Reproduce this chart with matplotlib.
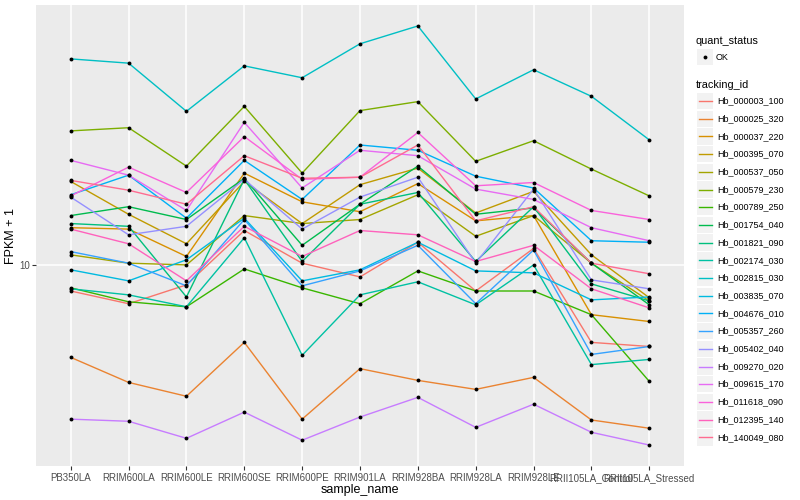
# FPKM + 1 per sample for each tracking id (cuffdiff-style line plot)
import matplotlib
matplotlib.use('Agg')
import matplotlib.pyplot as plt
from matplotlib.patches import Rectangle
from matplotlib.lines import Line2D
from matplotlib.ticker import NullLocator

plt.rcParams['font.family'] = ['Liberation Sans', 'DejaVu Sans']

samples = ['PB350LA', 'RRIM600LA', 'RRIM600LE', 'RRIM600SE', 'RRIM600PE', 'RRIM901LA',
           'RRIM928BA', 'RRIM928LA', 'RRIM928LE', 'RRII105LA_Control', 'RRII105LA_Stressed']

tracking_ids = ['Hb_000003_100', 'Hb_000025_320', 'Hb_000037_220', 'Hb_000395_070',
                'Hb_000537_050', 'Hb_000579_230', 'Hb_000789_250', 'Hb_001754_040',
                'Hb_001821_090', 'Hb_002174_030', 'Hb_002815_030', 'Hb_003835_070',
                'Hb_004676_010', 'Hb_005357_260', 'Hb_005402_040', 'Hb_009270_020',
                'Hb_009615_170', 'Hb_011618_090', 'Hb_012395_140', 'Hb_140049_080']

# FPKM + 1 values, one list per gene (same order as samples)
hb_000003_100 = [8.60, 7.99, 8.91, 12.2, 10.1, 9.33, 11.4, 8.60, 11.0, 6.39, 6.24]
hb_000025_320 = [5.86, 5.07, 4.68, 6.39, 4.10, 5.49, 5.13, 4.87, 5.22, 4.08, 3.89]
hb_000037_220 = [12.4, 12.3, 10.5, 17.0, 14.4, 13.6, 16.0, 12.9, 13.3, 7.50, 7.21]
hb_000395_070 = [16.2, 13.4, 11.3, 16.2, 12.7, 15.9, 17.5, 13.5, 15.3, 10.6, 8.27]
hb_000537_050 = [10.6, 10.1, 10.0, 13.3, 12.7, 13.0, 15.0, 11.8, 13.3, 10.1, 8.12]
hb_000579_230 = [21.7, 22.1, 17.7, 25.0, 17.0, 24.4, 25.7, 18.2, 20.5, 17.4, 14.9]
hb_000789_250 = [8.76, 8.08, 7.85, 9.77, 8.76, 7.99, 9.66, 8.60, 8.60, 7.50, 5.10]
hb_001754_040 = [13.3, 14.0, 13.0, 16.5, 11.2, 14.2, 17.7, 13.4, 13.9, 10.1, 7.94]
hb_001821_090 = [12.7, 12.5, 8.31, 16.4, 10.2, 14.2, 15.2, 10.2, 14.0, 8.96, 8.12]
hb_002174_030 = [8.71, 8.41, 7.85, 11.7, 5.93, 8.41, 9.07, 7.94, 10.0, 5.62, 5.79]
hb_002815_030 = [32.9, 32.1, 24.3, 31.6, 29.5, 35.9, 39.8, 26.1, 30.9, 26.5, 20.6]
hb_003835_070 = [9.72, 9.12, 10.3, 13.1, 9.12, 9.72, 11.4, 9.66, 9.55, 8.17, 8.31]
hb_004676_010 = [15.0, 16.8, 13.1, 18.3, 14.6, 20.0, 19.4, 16.7, 15.6, 11.5, 11.4]
hb_005357_260 = [10.8, 10.1, 8.86, 13.0, 8.86, 9.66, 11.2, 7.99, 10.9, 5.96, 6.24]
hb_005402_040 = [14.8, 11.9, 12.5, 16.4, 12.3, 14.8, 16.6, 10.1, 15.5, 9.17, 8.71]
hb_009270_020 = [4.10, 4.05, 3.67, 4.27, 3.63, 4.15, 4.65, 3.91, 4.47, 3.80, 3.53]
hb_009615_170 = [18.3, 16.8, 13.7, 22.8, 15.6, 19.4, 18.8, 15.5, 14.6, 12.4, 11.5]
hb_011618_090 = [14.9, 17.6, 15.2, 21.0, 16.4, 16.6, 21.5, 15.8, 16.1, 13.7, 13.0]
hb_012395_140 = [12.3, 11.3, 9.12, 12.5, 10.5, 12.2, 11.9, 10.2, 11.2, 8.71, 7.80]
hb_140049_080 = [16.3, 15.4, 14.2, 18.8, 16.5, 16.6, 20.0, 12.9, 14.0, 10.1, 9.50]

genes = [hb_000003_100, hb_000025_320, hb_000037_220, hb_000395_070, hb_000537_050,
         hb_000579_230, hb_000789_250, hb_001754_040, hb_001821_090, hb_002174_030,
         hb_002815_030, hb_003835_070, hb_004676_010, hb_005357_260, hb_005402_040,
         hb_009270_020, hb_009615_170, hb_011618_090, hb_012395_140, hb_140049_080]

# ggplot default hue palette for 20 levels
colors = ['#F8766D', '#EA8331', '#D89000', '#C09B00', '#A3A500', '#7CAE00', '#39B600',
          '#00BB4E', '#00BF7D', '#00C1A3', '#00BFC4', '#00BAE0', '#00B0F6', '#35A2FF',
          '#9590FF', '#C77CFF', '#E76BF3', '#FA62DB', '#FF62BC', '#FF6C91']

W, H = 800, 500
fig = plt.figure(figsize=(8, 5), dpi=100)
ax = fig.add_axes([36 / W, 1 - 466 / H, (684 - 36) / W, (466 - 5) / H])
ax.set_facecolor('#EBEBEB')

x = list(range(len(samples)))
for vals, col in zip(genes, colors):
    ax.plot(x, vals, color=col, lw=1.0, zorder=2)
for vals in genes:
    ax.plot(x, vals, 'o', color='black', ms=2.8, mec='none', zorder=3)

ax.set_yscale('log')
ax.yaxis.set_minor_locator(NullLocator())
ax.set_yticks([10])
ax.set_yticklabels(['10'])
ax.set_xticks(x)
ax.set_xticklabels(samples)
ax.set_xlim(-0.6, len(samples) - 0.4)

ax.grid(True, color='white', lw=1.1, zorder=0)
ax.set_axisbelow(True)
for s in ax.spines.values():
    s.set_visible(False)
ax.tick_params(axis='both', length=3, width=0.8, color='#333333',
               labelcolor='#4D4D4D', labelsize=7)
ax.tick_params(axis='x', pad=2)
ax.tick_params(axis='y', pad=1)

ax.set_xlabel('sample_name', fontsize=9, labelpad=1)
ax.set_ylabel('FPKM + 1', fontsize=9, labelpad=2)


# legend, drawn by hand in the ggplot style
def fx(px):
    return px / W


def fy(py):
    return 1 - py / H


fig.text(fx(696), fy(41), 'quant_status', fontsize=7.8, va='center', ha='left')
fig.add_artist(Rectangle((fx(697), fy(65)), 16 / W, 16 / H, transform=fig.transFigure,
                         facecolor='#F2F2F2', edgecolor='none'))
fig.add_artist(Line2D([fx(705)], [fy(57)], marker='o', color='black', ms=2.8,
                      mec='none', transform=fig.transFigure))
fig.text(fx(716), fy(57), 'OK', fontsize=6.5, va='center', ha='left')

fig.text(fx(696), fy(85), 'tracking_id', fontsize=7.8, va='center', ha='left')
for i, (name, col) in enumerate(zip(tracking_ids, colors)):
    yc = 101 + i * 17.7
    fig.add_artist(Rectangle((fx(697), fy(yc + 8.2)), 16 / W, 16.4 / H,
                             transform=fig.transFigure, facecolor='#F2F2F2',
                             edgecolor='none'))
    fig.add_artist(Line2D([fx(698.5), fx(711.5)], [fy(yc), fy(yc)], color=col, lw=1.0,
                          transform=fig.transFigure))
    fig.text(fx(717), fy(yc), name, fontsize=6.5, va='center', ha='left')

fig.savefig('out.png', dpi=100)
